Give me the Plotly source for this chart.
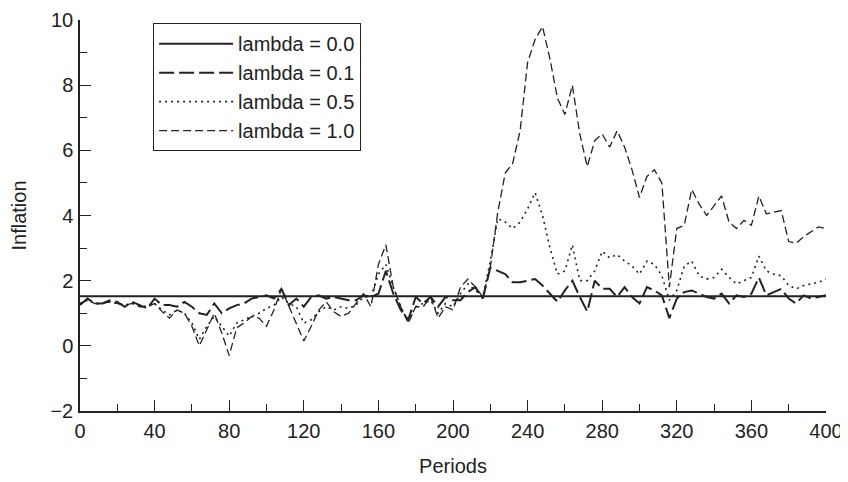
import plotly.graph_objects as go

# periods sampled every 4 steps
periods = list(range(0, 401, 4))

lambda_01 = [1.25, 1.45, 1.3, 1.3, 1.4, 1.35, 1.2, 1.35, 1.25, 1.15, 1.45, 1.25, 1.25, 1.2, 1.35, 1.2,
             1.0, 0.95, 1.3, 1.0, 1.15, 1.25, 1.3, 1.45, 1.5, 1.55, 1.45, 1.75, 1.25, 1.45, 1.2, 1.5,
             1.55, 1.45, 1.5, 1.45, 1.4, 1.4, 1.55, 1.5, 1.6, 2.3, 1.6, 1.1, 0.8, 1.5, 1.3, 1.5,
             1.2, 1.5, 1.4, 1.4, 1.65, 1.8, 1.45, 2.4, 2.3, 2.2, 1.95, 1.95, 2.0, 2.05, 1.85, 1.6,
             1.35, 1.7, 2.0, 1.5, 1.05, 2.0, 1.75, 1.75, 1.5, 1.8, 1.5, 1.3, 1.8, 1.7, 1.55, 0.85,
             1.45, 1.65, 1.7, 1.6, 1.5, 1.45, 1.6, 1.3, 1.55, 1.5, 1.6, 2.1, 1.55, 1.65, 1.75, 1.45,
             1.3, 1.55, 1.45, 1.5, 1.55]

lambda_05 = [1.3, 1.4, 1.3, 1.3, 1.35, 1.3, 1.25, 1.3, 1.25, 1.2, 1.3, 1.1, 0.95, 1.1, 1.0, 0.7,
             0.2, 0.6, 0.9, 0.6, 0.3, 0.7, 0.8, 0.9, 1.0, 1.15, 1.25, 1.5, 1.3, 1.2, 0.7, 0.8,
             1.05, 1.2, 1.1, 1.2, 1.15, 1.25, 1.5, 1.5, 2.2, 2.5, 1.8, 1.2, 0.75, 1.2, 1.3, 1.4,
             1.0, 1.3, 1.2, 1.6, 1.9, 1.7, 1.5, 2.6, 3.9, 3.8, 3.6, 3.8, 4.2, 4.7, 4.0, 3.0,
             2.2, 2.3, 3.1, 2.0, 2.0, 2.3, 2.9, 2.7, 2.8, 2.6, 2.45, 2.2, 2.6, 2.5, 2.15, 1.4,
             1.7, 2.45, 2.6, 2.15, 2.05, 2.1, 2.35, 2.1, 1.9, 2.0, 2.1, 2.75, 2.3, 2.2, 2.15, 1.85,
             1.75, 1.85, 1.9, 1.95, 2.05]

lambda_10 = [1.3, 1.4, 1.3, 1.3, 1.35, 1.3, 1.25, 1.3, 1.2, 1.2, 1.3, 1.05, 0.85, 1.1, 1.0, 0.6,
             0.0, 0.5, 1.0, 0.4, -0.3, 0.55, 0.7, 0.9, 0.85, 0.6, 1.1, 1.75, 1.2, 0.7, 0.15, 0.6,
             1.1, 1.35, 1.05, 0.9, 1.0, 1.3, 1.6, 1.2, 2.5, 3.1, 1.8, 1.2, 0.7, 1.2, 1.2, 1.5,
             0.85, 1.2, 1.1, 1.8, 2.05, 1.8, 1.5, 2.4, 4.1, 5.3, 5.6, 6.6, 8.7, 9.4, 9.8, 8.8,
             7.6, 7.1, 8.0, 6.5, 5.5, 6.3, 6.5, 6.1, 6.6, 6.1, 5.4, 4.55, 5.2, 5.4, 5.0, 1.8,
             3.6, 3.7, 4.8, 4.35, 4.0, 4.3, 4.6, 3.8, 3.6, 3.85, 3.7, 4.6, 4.05, 4.1, 4.15, 3.2,
             3.15, 3.35, 3.5, 3.65, 3.6]

lambda_00 = [1.52] * len(periods)

ink = '#222222'
font = 'Liberation Sans, Arial, sans-serif'

fig = go.Figure()
fig.add_trace(go.Scatter(x=periods, y=lambda_00, name='lambda = 0.0', mode='lines',
                         line=dict(color=ink, width=2)))
fig.add_trace(go.Scatter(x=periods, y=lambda_01, name='lambda = 0.1', mode='lines',
                         line=dict(color=ink, width=2, dash='15px,5px')))
fig.add_trace(go.Scatter(x=periods, y=lambda_05, name='lambda = 0.5', mode='lines',
                         line=dict(color=ink, width=1.6, dash='2px,4px')))
fig.add_trace(go.Scatter(x=periods, y=lambda_10, name='lambda = 1.0', mode='lines',
                         line=dict(color=ink, width=1.3, dash='8px,4px')))

# page body adds an 8px margin, so the figure is sized to the remaining window
fig.update_layout(
    width=840, height=474,
    margin=dict(l=72, r=22, t=12, b=71),
    paper_bgcolor='white', plot_bgcolor='white',
    font=dict(family=font, size=20, color=ink),
    showlegend=True,
    legend=dict(x=0.098, y=0.992, xanchor='left', yanchor='top',
                bordercolor=ink, borderwidth=1, bgcolor='white',
                font=dict(size=20), itemwidth=74, tracegroupgap=0),
    xaxis=dict(range=[0, 400], tickvals=list(range(0, 401, 40)), ticks='inside', ticklen=11,
               tickcolor=ink, showline=True, linecolor=ink, linewidth=1.5, showgrid=False,
               zeroline=False, ticklabelstandoff=1, automargin=False, ticklabeloverflow='allow',
               minor=dict(dtick=20, ticks='inside', ticklen=7, tickcolor=ink),
               title=dict(text='Periods', font=dict(size=20), standoff=18)),
    yaxis=dict(range=[-2, 10], tickvals=list(range(-2, 11, 2)),
               ticktext=['\u22122', '0', '2', '4', '6', '8', '10'],
               ticks='inside', ticklen=11, tickcolor=ink, showline=True, linecolor=ink,
               linewidth=1.5, showgrid=False, zeroline=False, ticklabelstandoff=1,
               automargin=False, ticklabeloverflow='allow',
               minor=dict(dtick=1, ticks='inside', ticklen=7, tickcolor=ink),
               title=dict(text='Inflation', font=dict(size=20), standoff=20)),
)

fig.write_html("out.html")
